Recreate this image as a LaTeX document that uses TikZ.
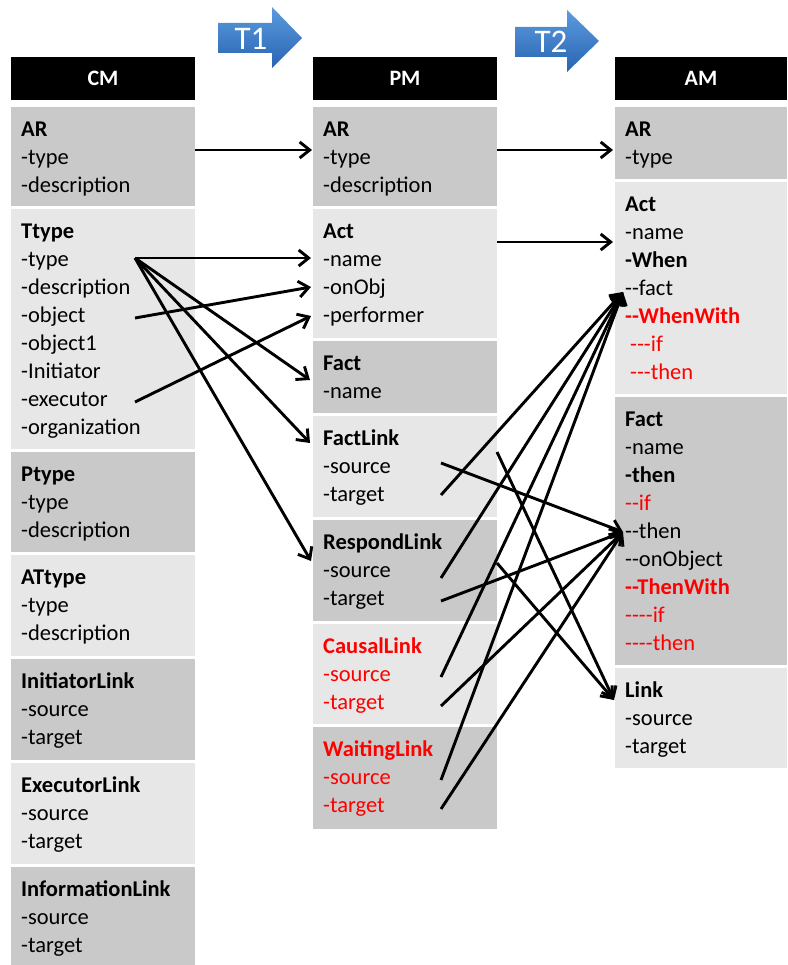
\documentclass[tikz,border=0pt]{standalone}
\usepackage{fontspec}
\setmainfont{Carlito}[Ligatures=TeXOff]
\usetikzlibrary{arrows.meta}
\definecolor{blkdark}{RGB}{201,201,201}
\definecolor{blklight}{RGB}{231,231,231}
\definecolor{tblueA}{RGB}{92,155,222}
\definecolor{tblueB}{RGB}{40,100,178}
\newcommand{\rd}[1]{\textcolor{red}{#1}}
% block: name, x, top, height, styles, lines
\newcommand{\mblock}[6]{%
  \node[blockbox, #5, minimum height=#4pt, anchor=north west] (#1) at (#2,#3) {};
  \node[txt, anchor=north west] (#1t) at (#2+10,#3+9.4) {\strut#6};
}

\begin{document}
\begin{tikzpicture}[
  x=1pt, y=-1pt,
  txt/.style={font=\fontsize{22.5}{28}\selectfont, align=left, inner sep=0pt},
  blockbox/.style={rectangle, inner sep=0pt, outer sep=0pt, minimum width=184pt},
  dark/.style={fill=blkdark},
  light/.style={fill=blklight},
  narrow/.style={minimum width=172pt},
  head/.style={blockbox, fill=black, minimum height=43pt, text=white, font=\fontsize{22}{26}\selectfont\bfseries},
  conn/.style={line width=2.9pt, -{Straight Barb[length=10pt,width=16pt]}},
  tarrow/.style={top color=tblueA, bottom color=tblueB, draw=none},
  tlabel/.style={text=white, font=\fontsize{33}{36}\selectfont, inner sep=0pt}
]
\useasboundingbox (0,0) rectangle (787,965);

% transformation arrows
\shade[tarrow] (218,23) -- (272,23) -- (272,7) -- (302,38) -- (272,68) -- (272,53) -- (218,53) -- cycle;
\node[tlabel] (t1) at (251,38.5) {T1};
\shade[tarrow] (515,27) -- (567,27) -- (567,10) -- (599,41) -- (567,72) -- (567,57) -- (515,57) -- cycle;
\node[tlabel] (t2) at (551,42) {T2};

% headers
\node[head] (cmH) at (103,78.5) {CM};
\node[head] (pmH) at (405,78.5) {PM};
\node[head, narrow] (amH) at (701,78.5) {AM};

% CM column
\mblock{cmAR}{11}{107}{99}{dark}{\textbf{AR}\\-type\\-description}
\mblock{cmTt}{11}{209}{240}{light}{\textbf{Ttype}\\-type\\-description\\-object\\-object1\\-Initiator\\-executor\\-organization}
\mblock{cmPt}{11}{452}{100}{dark}{\textbf{Ptype}\\-type\\-description}
\mblock{cmAt}{11}{555}{101}{light}{\textbf{ATtype}\\-type\\-description}
\mblock{cmIL}{11}{659}{101}{dark}{\textbf{InitiatorLink}\\-source\\-target}
\mblock{cmEL}{11}{763}{101}{light}{\textbf{ExecutorLink}\\-source\\-target}
\mblock{cmNL}{11}{867}{98}{dark}{\textbf{InformationLink}\\-source\\-target}

% PM column
\mblock{pmAR}{313}{107}{99}{dark}{\textbf{AR}\\-type\\-description}
\mblock{pmAct}{313}{209}{129}{light}{\textbf{Act}\\-name\\-onObj\\-performer}
\mblock{pmFact}{313}{341}{72}{dark}{\textbf{Fact}\\-name}
\mblock{pmFL}{313}{416}{101}{light}{\textbf{FactLink}\\-source\\-target}
\mblock{pmRL}{313}{520}{101}{dark}{\textbf{RespondLink}\\-source\\-target}
\mblock{pmCL}{313}{624}{100}{light}{\rd{\textbf{CausalLink}}\\\rd{-source}\\\rd{-target}}
\mblock{pmWL}{313}{727}{102}{dark}{\rd{\textbf{WaitingLink}}\\\rd{-source}\\\rd{-target}}

% AM column
\mblock{amAR}{615}{107}{72}{dark,narrow}{\textbf{AR}\\-type}
\mblock{amAct}{615}{182}{212}{light,narrow}{\textbf{Act}\\-name\\\textbf{-When}\\--fact\\\rd{\textbf{--WhenWith}}\\\rd{\hspace{5pt}---if}\\\rd{\hspace{5pt}---then}}
\mblock{amFact}{615}{397}{268}{dark,narrow}{\textbf{Fact}\\-name\\\textbf{-then}\\\rd{--if}\\--then\\--onObject\\\rd{\textbf{--ThenWith}}\\\rd{----if}\\\rd{----then}}
\mblock{amLink}{615}{668}{100}{light,narrow}{\textbf{Link}\\-source\\-target}

% connector ends
\coordinate (cmARo) at (195,150);  \coordinate (pmARi) at (312,150);
\coordinate (pmARo) at (497,150);  \coordinate (amARi) at (613,150);
\coordinate (pmActo) at (497,242); \coordinate (amActi) at (613,242);
\coordinate (cmTy) at (135,258);   \coordinate (cmOb) at (135,318);
\coordinate (cmEx) at (135,402);
\coordinate (pmActN) at (311,258); \coordinate (pmOnObj) at (311,287);
\coordinate (pmPerf) at (311,316); \coordinate (pmFactN) at (310,380);
\coordinate (pmFLN) at (310,443);  \coordinate (pmRLN) at (311,561);
\coordinate (pmFLs) at (441,463);  \coordinate (pmFLt) at (441,495);
\coordinate (pmRLs) at (441,578);  \coordinate (pmRLt) at (441,601);
\coordinate (pmCLs) at (441,677);  \coordinate (pmCLt) at (441,706);
\coordinate (pmWLs) at (441,780);  \coordinate (pmWLt) at (441,809);
\coordinate (pmFLe) at (497,452);  \coordinate (pmRLe) at (497,563);
\coordinate (amFactIn) at (623,292);
\coordinate (amThenIn) at (623,532);
\coordinate (amLinkIn) at (614,700);

% T1 mappings
\draw[conn] (cmARo) -- (pmARi);
\foreach \t in {pmActN,pmFactN,pmFLN,pmRLN}
  \draw[conn] (cmTy) -- (\t);
\draw[conn] (cmOb) -- (pmOnObj);
\draw[conn] (cmEx) -- (pmPerf);

% T2 mappings
\draw[conn] (pmARo) -- (amARi);
\draw[conn] (pmActo) -- (amActi);
\foreach \s in {pmFLt,pmRLs,pmCLs,pmWLs}
  \draw[conn] (\s) -- (amFactIn);
\foreach \s in {pmFLs,pmRLt,pmCLt,pmWLt}
  \draw[conn] (\s) -- (amThenIn);
\foreach \s in {pmFLe,pmRLe}
  \draw[conn] (\s) -- (amLinkIn);

\end{tikzpicture}
\end{document}
